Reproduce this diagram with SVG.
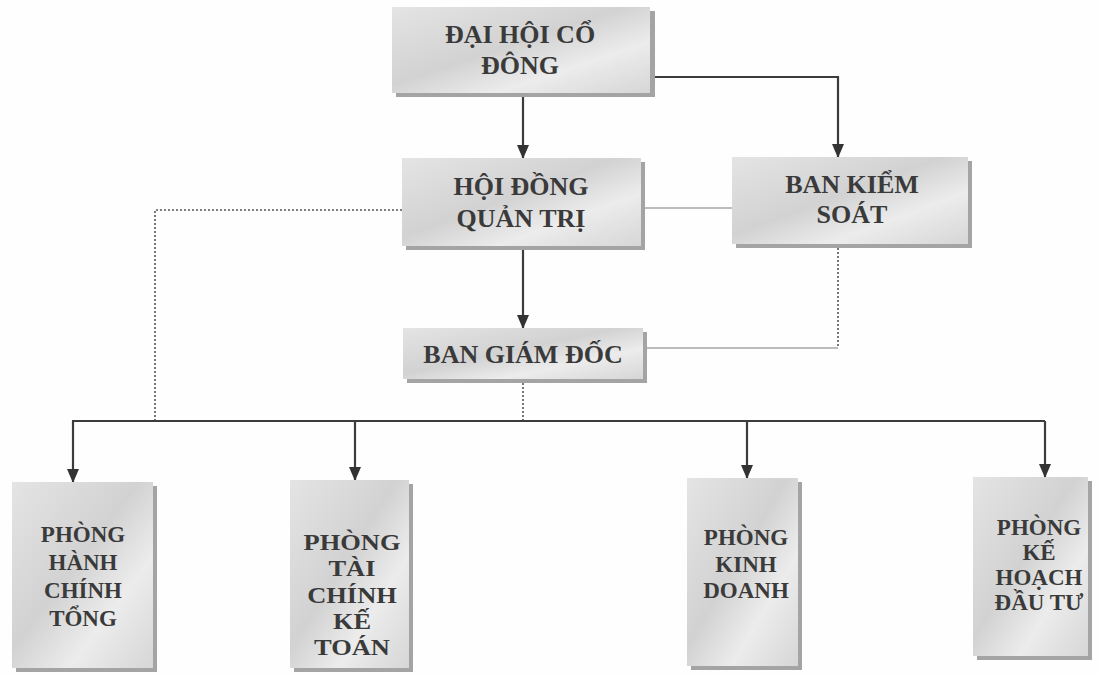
<svg xmlns="http://www.w3.org/2000/svg" width="1098" height="674" viewBox="0 0 1098 674">
<style>
.box{fill:url(#g)}
.sh{fill:#a4a4a4}
.t{font-family:"Liberation Serif","Times New Roman",serif;font-weight:bold;fill:#3a3a3a;text-anchor:middle}
.m{font-size:26px}
.s{font-size:23px}
.c{fill:none;stroke:#3c3c3c;stroke-width:2.2}
.thin{fill:none;stroke:#7a7a7a;stroke-width:1}
.dot{fill:none;stroke:#555;stroke-width:1.6;stroke-dasharray:2 2}
</style>
<defs>
<linearGradient id="g" x1="0" y1="0" x2="1" y2="1">
<stop offset="0" stop-color="#e4e4e4"/>
<stop offset="0.45" stop-color="#d2d2d2"/>
<stop offset="0.7" stop-color="#ececec"/>
<stop offset="1" stop-color="#d6d6d6"/>
</linearGradient>
<marker id="a" markerWidth="14" markerHeight="14" refX="13" refY="7" orient="auto" markerUnits="userSpaceOnUse">
<path d="M0,1 L14,7 L0,13 Z" fill="#333"/>
</marker>
</defs>
<rect width="1098" height="674" fill="#fefefe"/>
<g id="connectors">
<path class="c" d="M523,93 V158" marker-end="url(#a)"/>
<path class="c" d="M650,77 H838 V157" marker-end="url(#a)"/>
<path class="c" d="M523,250 V328" marker-end="url(#a)"/>
<path class="thin" d="M645,208 H732"/>
<path class="dot" d="M402,210 H155 V421"/>
<path class="dot" d="M838,248 V348"/>
<path class="thin" d="M838,348 H647"/>
<path class="dot" d="M523,383 V421"/>
<path class="c" d="M72,421 H1045"/>
<path class="c" d="M73,421 V482" marker-end="url(#a)"/>
<path class="c" d="M355,421 V480" marker-end="url(#a)"/>
<path class="c" d="M747,421 V478" marker-end="url(#a)"/>
<path class="c" d="M1045,421 V477" marker-end="url(#a)"/>
</g>
<g id="dhcd">
<rect class="sh" x="396" y="11" width="259" height="86"/>
<rect class="box" x="392" y="7" width="258" height="86"/>
<text class="t m" x="520" y="43">ĐẠI HỘI CỔ</text>
<text class="t m" x="520" y="74">ĐÔNG</text>
</g>
<g id="hdqt">
<rect class="sh" x="406" y="162" width="239" height="88"/>
<rect class="box" x="402" y="158" width="239" height="88"/>
<text class="t m" x="521" y="195">HỘI ĐỒNG</text>
<text class="t m" x="521" y="227">QUẢN TRỊ</text>
</g>
<g id="bks">
<rect class="sh" x="736" y="161" width="236" height="87"/>
<rect class="box" x="732" y="157" width="236" height="87"/>
<text class="t m" x="852" y="193">BAN KIỂM</text>
<text class="t m" x="852" y="223">SOÁT</text>
</g>
<g id="bgd">
<rect class="sh" x="407" y="332" width="240" height="51"/>
<rect class="box" x="403" y="328" width="240" height="51"/>
<text class="t m" x="523" y="363">BAN GIÁM ĐỐC</text>
</g>
<g id="p1">
<rect class="sh" x="16" y="486" width="141" height="186"/>
<rect class="box" x="12" y="482" width="141" height="186"/>
<text class="t s" x="83" y="542">PHÒNG</text>
<text class="t s" x="83" y="570">HÀNH</text>
<text class="t s" x="83" y="598">CHÍNH</text>
<text class="t s" x="83" y="626">TỔNG</text>
</g>
<g id="p2">
<rect class="sh" x="294" y="484" width="119" height="188"/>
<rect class="box" x="290" y="480" width="119" height="188"/>
<g transform="translate(352,0) scale(1.15,1) translate(-352,0)">
<text class="t s" x="352" y="550">PHÒNG</text>
<text class="t s" x="352" y="576">TÀI</text>
<text class="t s" x="352" y="603">CHÍNH</text>
<text class="t s" x="352" y="629">KẾ</text>
<text class="t s" x="352" y="655">TOÁN</text>
</g>
</g>
<g id="p3">
<rect class="sh" x="691" y="482" width="111" height="188"/>
<rect class="box" x="687" y="478" width="111" height="188"/>
<text class="t s" x="746" y="545">PHÒNG</text>
<text class="t s" x="746" y="572">KINH</text>
<text class="t s" x="746" y="598">DOANH</text>
</g>
<g id="p4">
<rect class="sh" x="977" y="481" width="115" height="179"/>
<rect class="box" x="973" y="477" width="115" height="179"/>
<text class="t s" x="1039" y="535">PHÒNG</text>
<text class="t s" x="1039" y="560">KẾ</text>
<text class="t s" x="1039" y="585">HOẠCH</text>
<text class="t s" x="1039" y="610">ĐẦU TƯ</text>
</g>
</svg>
